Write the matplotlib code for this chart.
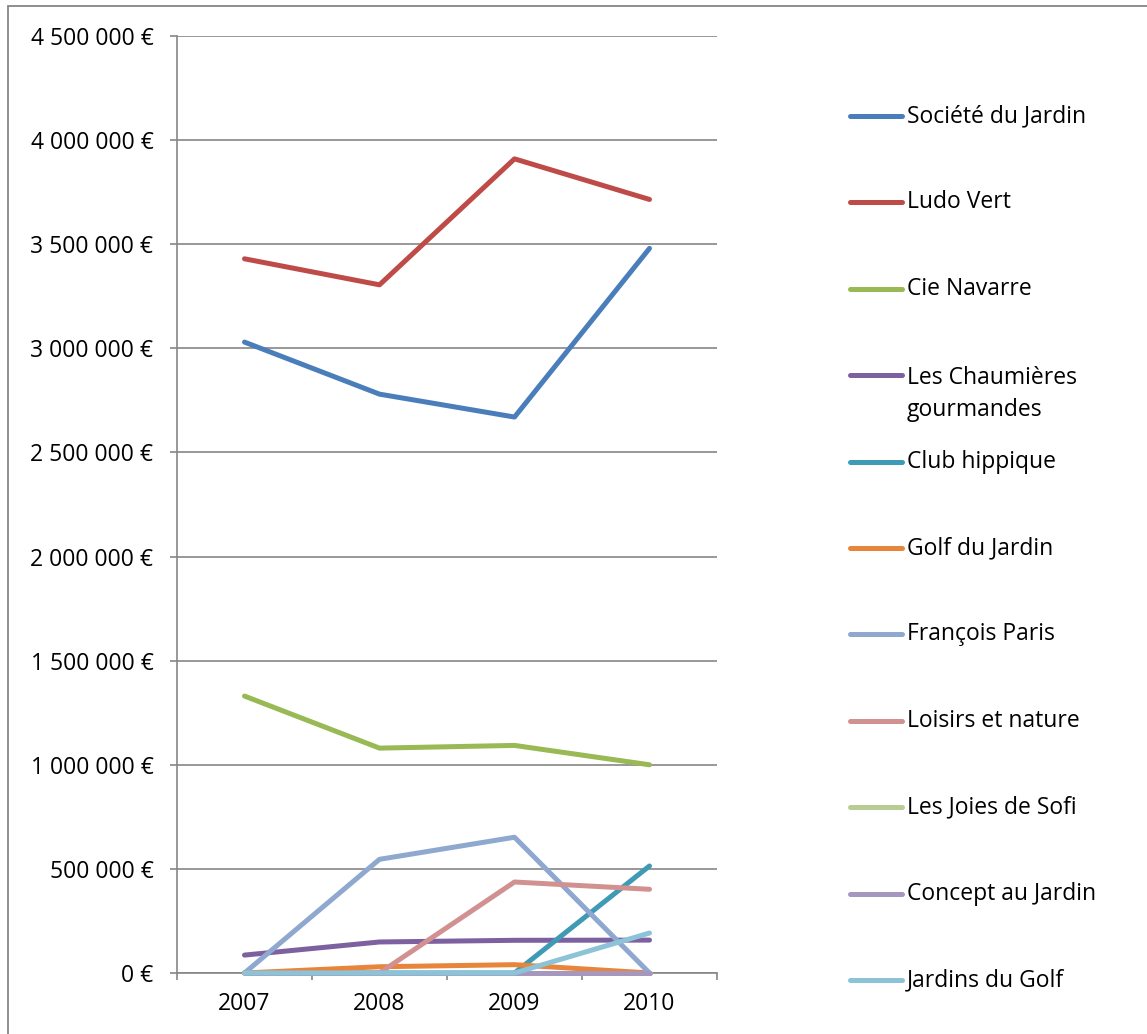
import matplotlib
matplotlib.use("Agg")
import matplotlib.pyplot as plt
from matplotlib.lines import Line2D
from matplotlib.patches import Rectangle

plt.rcParams['font.family'] = ['Open Sans', 'DejaVu Sans']

years = ["2007", "2008", "2009", "2010"]
series_names = ["Société du Jardin", "Ludo Vert", "Cie Navarre",
                "Les Chaumières\ngourmandes", "Club hippique", "Golf du Jardin",
                "François Paris", "Loisirs et nature", "Les Joies de Sofi",
                "Concept au Jardin", "Jardins du Golf"]
societe = [3030000, 2780000, 2670000, 3480000]
ludo = [3430000, 3305000, 3910000, 3715000]
navarre = [1330000, 1080000, 1093000, 1000000]
chaumieres = [86000, 149000, 157000, 158000]
club = [0, 0, 0, 514000]
golf = [0, 30000, 40000, 0]
francois = [0, 546000, 652000, 0]
loisirs = [0, 0, 437000, 402000]
sofi = [0, 0, 0, 0]
concept = [0, 0, 0, 0]
jardins_golf = [0, 0, 0, 192000]
all_series = [societe, ludo, navarre, chaumieres, club, golf, francois,
              loisirs, sofi, concept, jardins_golf]
colors = ['#4A7EBB', '#BE4B48', '#98B954', '#7D60A0', '#3F9AB5', '#E8853A',
          '#8EA8CF', '#D19190', '#B7CD94', '#A697BE', '#8CC3D6']
yticks = list(range(0, 4500001, 500000))

FS = 16.5
LW = 3.6
W, H = 1147, 1034
fig = plt.figure(figsize=(W / 100, H / 100), dpi=100)

def fx(px):
    return px / W

def fy(py):
    return 1 - py / H

# outer chart frame
fig.patches.append(Rectangle((fx(8), fy(1040)), fx(1150) - fx(8), fy(6) - fy(1040),
                             transform=fig.transFigure, fill=False,
                             edgecolor='#868686', linewidth=1.3, zorder=0))

ax = fig.add_axes([fx(177), fy(973), fx(717) - fx(177), fy(36) - fy(973)])
x = list(range(len(years)))
for vals, c in zip(all_series, colors):
    ax.plot(x, vals, color=c, linewidth=LW, solid_capstyle='round',
            solid_joinstyle='round', clip_on=False, zorder=3)

ax.set_xlim(-0.5, 3.5)
ax.set_ylim(0, 4500000)
ax.set_yticks(yticks)
ax.set_yticklabels([f"{v:,}".replace(",", " ") + " €" for v in yticks])
ax.set_xticks([-0.5, 0.5, 1.5, 2.5, 3.5])
ax.set_xticklabels([])
ax.set_xticks(x, minor=True)
ax.set_xticklabels(years, minor=True)
ax.tick_params(axis='x', which='minor', length=0, pad=14, labelsize=FS)
ax.tick_params(axis='x', which='major', length=5, width=1.2, color='#868686')
ax.tick_params(axis='y', length=5, width=1.2, color='#868686', pad=12, labelsize=FS)
ax.grid(axis='y', color='#868686', linewidth=1.2, zorder=1)
ax.set_axisbelow(True)
for s in ['top', 'right']:
    ax.spines[s].set_visible(False)
for s in ['left', 'bottom']:
    ax.spines[s].set_color('#868686')
    ax.spines[s].set_linewidth(1.2)

# legend drawn manually
for i, (name, c) in enumerate(zip(series_names, colors)):
    yc = 116 + i * 86.4
    fig.lines.append(Line2D([fx(850), fx(902)], [fy(yc), fy(yc)],
                            transform=fig.transFigure, color=c, linewidth=LW,
                            solid_capstyle='round'))
    if "\n" in name:
        fig.text(fx(907), fy(yc - 9), name, transform=fig.transFigure,
                 ha='left', va='top', fontsize=FS, linespacing=1.45)
    else:
        fig.text(fx(907), fy(yc), name, transform=fig.transFigure,
                 ha='left', va='center', fontsize=FS)

fig.savefig("out.png", dpi=100)
